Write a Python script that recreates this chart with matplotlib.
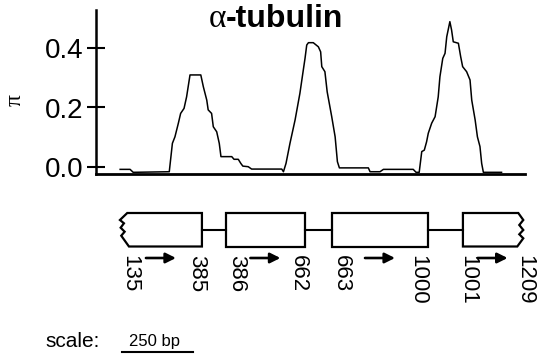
import matplotlib
matplotlib.use("Agg")
import matplotlib.pyplot as plt
from matplotlib.patches import Polygon

# ---------------- data ----------------
positions = [85, 120, 131, 258, 269, 278, 290, 298, 310, 319,
             331, 369, 378, 390, 395, 407, 413, 425, 434, 440,
             478, 486, 501, 510, 517, 536, 548, 577, 654, 660,
             669, 683, 701, 718, 730, 736, 742, 748, 765, 783,
             791, 795, 806, 814, 830, 842, 850, 857, 959, 965,
             1000, 1012, 1117, 1127, 1138, 1147, 1156, 1164, 1170, 1182,
             1194, 1205, 1211, 1221, 1229, 1235, 1240, 1246, 1252, 1258,
             1276, 1284, 1291, 1305, 1317, 1323, 1335, 1343, 1352, 1358,
             1364, 1428]
pi_values = [-0.009, -0.009, -0.019, -0.017, 0.079, 0.101, 0.147, 0.180, 0.197, 0.236,
             0.310, 0.310, 0.270, 0.225, 0.192, 0.180, 0.135, 0.118, 0.079, 0.034,
             0.034, 0.025, 0.025, 0.011, 0.002, 0.000, -0.008, -0.008, -0.008, -0.017,
             0.011, 0.079, 0.158, 0.248, 0.327, 0.366, 0.411, 0.419, 0.419, 0.405,
             0.388, 0.338, 0.321, 0.253, 0.169, 0.101, 0.017, -0.004, -0.004, -0.017,
             -0.017, -0.009, -0.009, -0.019, -0.019, 0.051, 0.056, 0.084, 0.113, 0.147,
             0.169, 0.236, 0.304, 0.366, 0.383, 0.439, 0.462, 0.490, 0.462, 0.422,
             0.417, 0.372, 0.338, 0.321, 0.293, 0.225, 0.158, 0.101, 0.068, 0.011,
             -0.019, -0.019]
exon_starts = [135, 386, 663, 1001]
exon_ends = [385, 662, 1000, 1209]
yticks = [0.0, 0.2, 0.4]
ytick_labels = ["0.0", "0.2", "0.4"]
title_greek = "α"
title_text = "-tubulin"
ylabel = "π"
scale_bp = 250
scale_label = "250 bp"
scale_prefix = "scale:"

# ---------------- layout ----------------
W, H = 537, 354
PX_PER_BP = 0.284
AX_L, AX_R, AX_T, AX_B = 96, 525, 10, 174
Y_ZERO_PX, PX_PER_UNIT = 166.7, 296.0
DIAGRAM_ORIGIN = 122          # axis bp where first exon starts in diagram
INTRON_GAPS = [85, 96, 123]   # drawn gap widths (bp units)
BOX_TOP, BOX_BOT, INTRON_Y = 213, 246.5, 229.5
LABEL_TOP, ARROW_Y = 255, 258
ARROW_HALF_PX = 15
SCALE_START = 91
SCALE_Y = 352.3

plt.rcParams['font.family'] = ['Liberation Sans', 'DejaVu Sans']

def px2bp(d):
    return d / PX_PER_BP

fig = plt.figure(figsize=(W / 100, H / 100), dpi=100)

# gene diagram / overlay axes in (bp, pixel-row) coordinates
gx = fig.add_axes([0, 0, 1, 1])
gx.set_xlim(-px2bp(AX_L), px2bp(W - AX_L))
gx.set_ylim(H, 0)
gx.axis('off')

# main plot
ax = fig.add_axes([AX_L / W, 1 - AX_B / H, (AX_R - AX_L) / W, (AX_B - AX_T) / H])
ax.plot(positions, pi_values, color='black', lw=1.1)
ax.set_xlim(0, px2bp(AX_R - AX_L))
ax.set_ylim(-(AX_B - Y_ZERO_PX) / PX_PER_UNIT, (Y_ZERO_PX - AX_T) / PX_PER_UNIT)
ax.patch.set_visible(False)
for s in ['top', 'right']:
    ax.spines[s].set_visible(False)
ax.spines['left'].set_linewidth(1.8)
ax.spines['bottom'].set_linewidth(2.0)
ax.set_xticks([])
ax.set_yticks(yticks)
ax.set_yticklabels(ytick_labels)
ax.tick_params(axis='y', direction='inout', length=12.5, width=1.5, pad=3, labelsize=20)

fig.text(15.5 / W, 1 - 100 / H, ylabel, rotation=90, ha='center', va='center',
         fontsize=17, family=['Liberation Serif', 'DejaVu Serif'])

# title
split_px = 226
fig.text(split_px / W, 1 - 26.7 / H, title_greek, ha='right', va='baseline',
         fontsize=24, family=['Liberation Serif', 'DejaVu Serif'])
fig.text(split_px / W, 1 - 26.7 / H, title_text, ha='left', va='baseline',
         fontsize=23, fontweight='bold')

# exon boxes
lengths = [e - s + 1 for s, e in zip(exon_starts, exon_ends)]
lefts = []
x = DIAGRAM_ORIGIN
for i, L in enumerate(lengths):
    lefts.append(x)
    x += L + (INTRON_GAPS[i] if i < len(INTRON_GAPS) else 0)
rights = [l + L for l, L in zip(lefts, lengths)]

zig_left_dx = [-3.4, -10.7, -6.7, -10, -6, -9.4, -1.7]
zig_left_y = [BOX_TOP, 220, 223.3, 227.7, 231.7, 235.7, BOX_BOT]
zig_right_dx = [-4, 1, -3, 1, -3, 1, -5]
zig_right_y = [BOX_TOP, 220, 225, 230, 234.3, 238.3, BOX_BOT]

n = len(lengths)
for i in range(n):
    if i == 0:
        lp = [(lefts[i] + px2bp(dx), y) for dx, y in zip(zig_left_dx, zig_left_y)]
    else:
        lp = [(lefts[i], BOX_TOP), (lefts[i], BOX_BOT)]
    if i == n - 1:
        rp = [(rights[i] + px2bp(dx), y) for dx, y in zip(zig_right_dx, zig_right_y)]
    else:
        rp = [(rights[i], BOX_TOP), (rights[i], BOX_BOT)]
    poly = Polygon(lp + rp[::-1], closed=True, fill=False, edgecolor='black',
                   lw=1.6, joinstyle='miter')
    gx.add_patch(poly)
    if i < n - 1:
        gx.plot([rights[i], lefts[i + 1]], [INTRON_Y, INTRON_Y], color='black', lw=1.5)

# labels and arrows
start_off = [-1, 10.5, 9, 5]
end_off = [-5, -6.5, -10.5, 2]
for i in range(n):
    gx.text(lefts[i] + px2bp(start_off[i]), LABEL_TOP, str(exon_starts[i]),
            rotation=270, ha='center', va='top', fontsize=16)
    gx.text(rights[i] + px2bp(end_off[i]), LABEL_TOP, str(exon_ends[i]),
            rotation=270, ha='center', va='top', fontsize=16)
    lo = lefts[i] + (px2bp(-10.7) if i == 0 else 0)
    hi = rights[i]
    c = (lo + hi) / 2
    gx.annotate('', xy=(c + px2bp(ARROW_HALF_PX), ARROW_Y),
                xytext=(c - px2bp(ARROW_HALF_PX), ARROW_Y),
                arrowprops=dict(arrowstyle='-|>', lw=1.9, color='black',
                                mutation_scale=15, shrinkA=0, shrinkB=0))

# scale bar
fig.text(45 / W, 1 - 346.7 / H, scale_prefix, ha='left', va='baseline', fontsize=15)
gx.plot([SCALE_START, SCALE_START + scale_bp], [SCALE_Y, SCALE_Y], color='black', lw=1.5)
gx.text(SCALE_START + scale_bp / 2 - px2bp(3), 346.2, scale_label, ha='center',
        va='baseline', fontsize=12)

fig.savefig('out.png', dpi=100)
